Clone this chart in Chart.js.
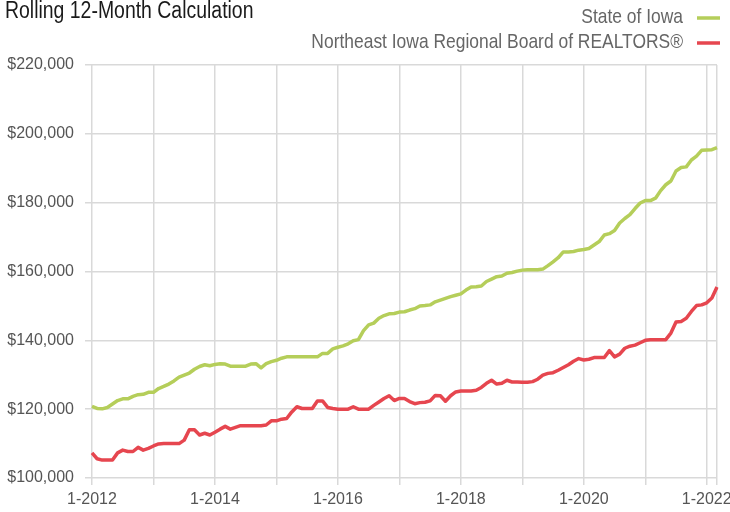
<!DOCTYPE html>
<html>
<head>
<meta charset="utf-8">
<script src="https://cdn.jsdelivr.net/npm/chart.js@4/dist/chart.umd.min.js"></script>
<style>
  html, body { margin:0; padding:0; background:#fff; }
  #wrap { width:730px; height:512px; position:relative; }
</style>
</head>
<body>
<div id="wrap"><canvas id="chart" width="730" height="512"></canvas></div>
<script>
// —————— DATA ——————
const title = 'Rolling 12-Month Calculation';
const seriesNames = ['State of Iowa', 'Northeast Iowa Regional Board of REALTORS®'];
const seriesColors = ['#b5ce5a', '#e6464f'];

// monthly, 1-2012 .. 3-2022
const months = [];
for (let y = 2012; y <= 2022; y++) {
  for (let m = 1; m <= 12; m++) {
    if (y === 2022 && m > 3) break;
    months.push(m + '-' + y);
  }
}
const shownTicks = ['1-2012','1-2014','1-2016','1-2018','1-2020','1-2022'];
const gridTicks  = ['1-2012','1-2013','1-2014','1-2015','1-2016','1-2017','1-2018','1-2019','1-2020','1-2021','1-2022','3-2022'];

// values in $ thousands
const stateIowa = [
  120.8,120.2,120.1,120.5,121.5,122.5,123.0,123.0,123.7,124.2,124.3,124.9,
  124.9,126.0,126.6,127.3,128.2,129.3,129.9,130.5,131.6,132.4,132.9,132.6,
  133.0,133.2,133.1,132.5,132.5,132.5,132.5,133.1,133.2,132.0,133.2,133.8,
  134.2,134.8,135.2,135.2,135.2,135.2,135.2,135.2,135.2,136.2,136.2,137.5,
  138.0,138.4,139.0,139.9,140.2,142.8,144.5,145.0,146.4,147.2,147.7,147.8,
  148.2,148.3,148.8,149.2,150.0,150.1,150.3,151.2,151.7,152.2,152.7,153.1,
  153.5,154.6,155.5,155.6,155.8,157.1,157.8,158.5,158.7,159.5,159.7,160.1,
  160.4,160.5,160.5,160.5,160.7,161.7,162.8,164.0,165.7,165.7,165.8,166.2,
  166.4,166.7,167.7,168.7,170.6,171.0,171.9,174.1,175.4,176.5,178.3,179.9,
  180.6,180.6,181.3,183.5,185.2,186.3,189.2,190.2,190.4,192.4,193.5,195.2,
  195.3,195.4,196.0
];
const northeastIowa = [
  107.3,105.6,105.2,105.2,105.2,107.3,108.1,107.7,107.7,108.9,108.1,108.6,
  109.3,109.9,110.0,110.0,110.0,110.0,111.0,114.0,114.0,112.5,113.0,112.5,
  113.3,114.2,115.0,114.2,114.7,115.2,115.2,115.2,115.2,115.2,115.4,116.6,
  116.6,117.1,117.3,119.2,120.7,120.2,120.2,120.2,122.4,122.4,120.5,120.2,
  120.0,120.0,120.0,120.7,120.0,120.0,120.0,121.1,122.1,123.1,123.9,122.5,
  123.1,123.1,122.2,121.6,121.9,122.0,122.4,124.0,123.9,122.3,123.9,125.0,
  125.3,125.3,125.3,125.5,126.3,127.5,128.4,127.3,127.5,128.4,127.9,127.9,
  127.8,127.8,128.0,128.7,129.9,130.4,130.6,131.3,132.1,132.9,133.9,134.7,
  134.3,134.5,135.0,135.0,135.0,137.0,135.2,136.0,137.7,138.3,138.6,139.3,
  140.0,140.2,140.2,140.2,140.2,142.1,145.3,145.5,146.4,148.4,150.1,150.3,
  150.9,152.3,155.5
];

// —————— STYLE ——————
const FONT = "'Liberation Sans', Arial, sans-serif";
const GRID = '#d9d9d9';

// condensed look: draw taller glyphs squeezed horizontally
function narrowText(c, text, x, y, size, align, sx) {
  c.save();
  c.font = size + 'px ' + FONT;
  c.textAlign = align;
  c.textBaseline = 'middle';
  c.translate(x, y);
  c.scale(sx, 1);
  c.fillText(text, 0, 0);
  c.restore();
}

const headerPlugin = {
  id: 'header',
  afterDraw(chart) {
    const c = chart.ctx;
    c.save();
    c.fillStyle = '#1a1a1a';
    narrowText(c, title, 5, 12, 23, 'left', 0.845);

    c.fillStyle = '#666';
    chart.data.datasets.forEach((ds, i) => {
      const y = 17 + i * 25;
      narrowText(c, ds.label, 683, y, 21, 'right', 0.83);
      c.strokeStyle = ds.borderColor;
      c.lineWidth = 3.5;
      c.beginPath();
      c.moveTo(697, y + 1);
      c.lineTo(720, y + 1);
      c.stroke();
    });
    c.restore();
  }
};

new Chart(document.getElementById('chart'), {
  type: 'line',
  data: {
    labels: months,
    datasets: [
      { label: seriesNames[0], data: stateIowa.map(v => v * 1000), borderColor: seriesColors[0] },
      { label: seriesNames[1], data: northeastIowa.map(v => v * 1000), borderColor: seriesColors[1] }
    ].map(d => Object.assign(d, { borderWidth: 3.5, pointRadius: 0, tension: 0, fill: false, borderJoinStyle: 'round' }))
  },
  options: {
    responsive: false,
    animation: false,
    layout: { padding: { top: 65, right: 13, left: 0, bottom: 0 } },
    plugins: { legend: { display: false }, title: { display: false }, tooltip: { enabled: false } },
    scales: {
      x: {
        border: { display: false },
        grid: {
          color: ctx => gridTicks.includes(months[ctx.index]) ? GRID : 'rgba(0,0,0,0)',
          lineWidth: 1.5,
          tickLength: 7
        },
        ticks: {
          autoSkip: false,
          maxRotation: 0,
          padding: 5,
          color: '#555',
          font: { family: FONT, size: 16 },
          callback: function (v, i) { const l = months[i]; return shownTicks.includes(l) ? l : ''; }
        },
        afterFit: s => { s.height = 34; }
      },
      y: {
        min: 100000, max: 220000,
        border: { display: false },
        grid: { color: GRID, lineWidth: 1.5, tickLength: 7 },
        ticks: {
          stepSize: 20000,
          padding: 11,
          color: '#555',
          font: { family: FONT, size: 16 },
          callback: v => '$' + v.toLocaleString('en-US')
        },
        afterFit: s => { s.width = 92; }
      }
    }
  },
  plugins: [headerPlugin]
});
</script>
</body>
</html>
